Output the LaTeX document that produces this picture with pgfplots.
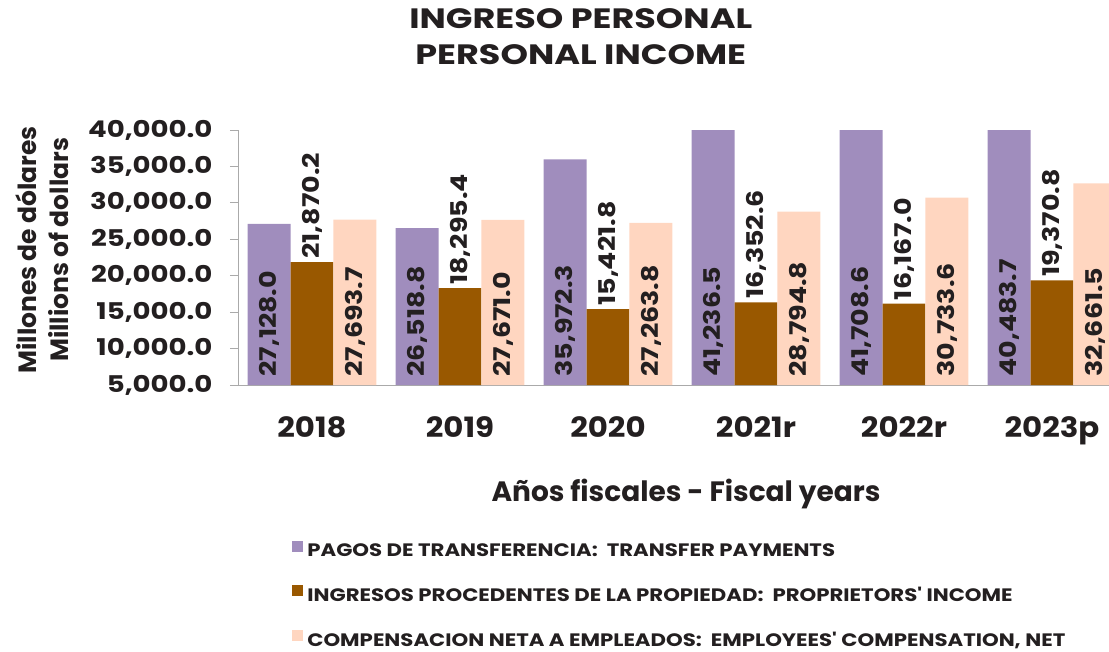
\documentclass[border=0pt]{standalone}
\usepackage{fontspec}
\setmainfont{Poppins}
\newfontfamily\fTitle{Poppins}[FakeStretch=1.25]
\newfontfamily\fXtick{Poppins}[FakeStretch=1.1]
\newfontfamily\fYtick{Poppins}[FakeStretch=1.2]
\newfontfamily\fBar{Poppins}[FakeStretch=1.17]
\newfontfamily\fLeg{Poppins}[FakeStretch=1.18]
\usepackage{pgfplots}
\usepackage{pgfplotstable}
\pgfplotsset{compat=1.18}
\definecolor{purp}{RGB}{160,141,189}
\definecolor{brwn}{RGB}{153,88,0}
\definecolor{peach}{RGB}{255,214,192}
\definecolor{txt}{RGB}{35,31,32}
\definecolor{axgrey}{RGB}{170,170,170}
\pgfplotstableread{
x tp pi ec
0 27128.0 21870.2 27693.7
1 26518.8 18295.4 27671.0
2 35972.3 15421.8 27263.8
3 41236.5 16352.6 28794.8
4 41708.6 16167.0 30733.6
5 40483.7 19370.8 32661.5
}\data
\begin{document}
\begin{tikzpicture}
\begin{axis}[
  scale only axis, width=888pt, height=255pt,
  xmin=-0.5, xmax=5.5, ymin=5000, ymax=40000,
  ybar, bar width=0.29,
  axis x line*=bottom, axis y line*=left,
  axis line style={-, draw=axgrey, line width=0.8pt},
  ytick={5000,10000,...,40000},
  scaled y ticks=false,
  y tick style={draw=axgrey, line width=0.8pt},
  major tick length=8pt, tick align=outside,
  xtick={0,...,5},
  xticklabels={2018,2019,2020,2021r,2022r,2023p},
  x tick style={draw=none},
  extra x ticks={-0.5,0.5,1.5,2.5,3.5,4.5,5.5},
  extra x tick labels={},
  extra x tick style={tick style={draw=axgrey, line width=0.8pt}, major tick length=10pt},
  /pgf/number format/assume math mode=true,
  yticklabel={\pgfmathprintnumber[fixed,fixed zerofill,precision=1,1000 sep={,}]{\tick}},
  y tick label style={font=\fYtick\bfseries\fontsize{23}{26}\selectfont, text=txt, anchor=east, xshift=-14pt},
  x tick label style={font=\fXtick\bfseries\fontsize{28}{30}\selectfont, text=txt, anchor=base, yshift=-44pt},
  title={INGRESO PERSONAL\\PERSONAL INCOME},
  title style={at={(axis description cs:0.386,1.341)}, anchor=center, align=center,
     font=\fTitle\bfseries\fontsize{28}{36}\selectfont, text=txt},
  ylabel={Millones de dólares\\Millions of dollars},
  ylabel style={at={(axis description cs:-0.2207,0.53)}, anchor=center, align=center,
     font=\bfseries\fontsize{25}{32}\selectfont, text=txt},
  xlabel={Años fiscales - Fiscal years},
  xlabel style={at={(axis description cs:0.5045,-0.4588)}, anchor=base,
     font=\bfseries\fontsize{28}{30}\selectfont, text=txt},
  legend style={at={(axis description cs:0.061,-0.61)}, anchor=north west,
     draw=none, fill=none, font=\fLeg\bfseries\fontsize{18}{20}\selectfont, text=txt,
     row sep=25pt, inner sep=0pt},
  legend cell align=left,
  legend image code/.code={\fill[#1, draw=none] (0pt,-1pt) rectangle (11pt,10pt);},
  nodes near coords style={font=\fBar\bfseries\fontsize{23}{25}\selectfont, text=txt, rotate=90, anchor=west},
]
\addplot[fill=purp, draw=none, bar shift=-0.29] table[x=x,y=tp]{\data};
\addlegendentry{\hspace{2pt}PAGOS DE TRANSFERENCIA:\ \ TRANSFER PAYMENTS}
\addplot[fill=brwn, draw=none, bar shift=0,
  nodes near coords={\pgfmathprintnumber[fixed,fixed zerofill,precision=1,1000 sep={,}]{\pgfplotspointmeta}},
  point meta=explicit] table[x=x,y=pi,meta=pi]{\data};
\addlegendentry{\hspace{2pt}INGRESOS PROCEDENTES DE LA PROPIEDAD:\ \ PROPRIETORS' INCOME}
\addplot[fill=peach, draw=none, bar shift=0.29] table[x=x,y=ec]{\data};
\addlegendentry{\hspace{2pt}COMPENSACION NETA A EMPLEADOS:\ \ EMPLOYEES' COMPENSATION, NET}
% labels at the base of the purple and peach bars
\addplot[draw=none, fill=none, bar shift=-0.29, forget plot,
  every node near coord/.append style={xshift=5pt},
  nodes near coords={\pgfmathprintnumber[fixed,fixed zerofill,precision=1,1000 sep={,}]{\pgfplotspointmeta}},
  point meta=explicit] table[x=x,y expr=5000,meta=tp]{\data};
\addplot[draw=none, fill=none, bar shift=0.29, forget plot,
  every node near coord/.append style={xshift=5pt},
  nodes near coords={\pgfmathprintnumber[fixed,fixed zerofill,precision=1,1000 sep={,}]{\pgfplotspointmeta}},
  point meta=explicit] table[x=x,y expr=5000,meta=ec]{\data};
\end{axis}
\pgfresetboundingbox
\useasboundingbox (-238pt,-266pt) rectangle (871pt,385pt);
\end{tikzpicture}
\end{document}
